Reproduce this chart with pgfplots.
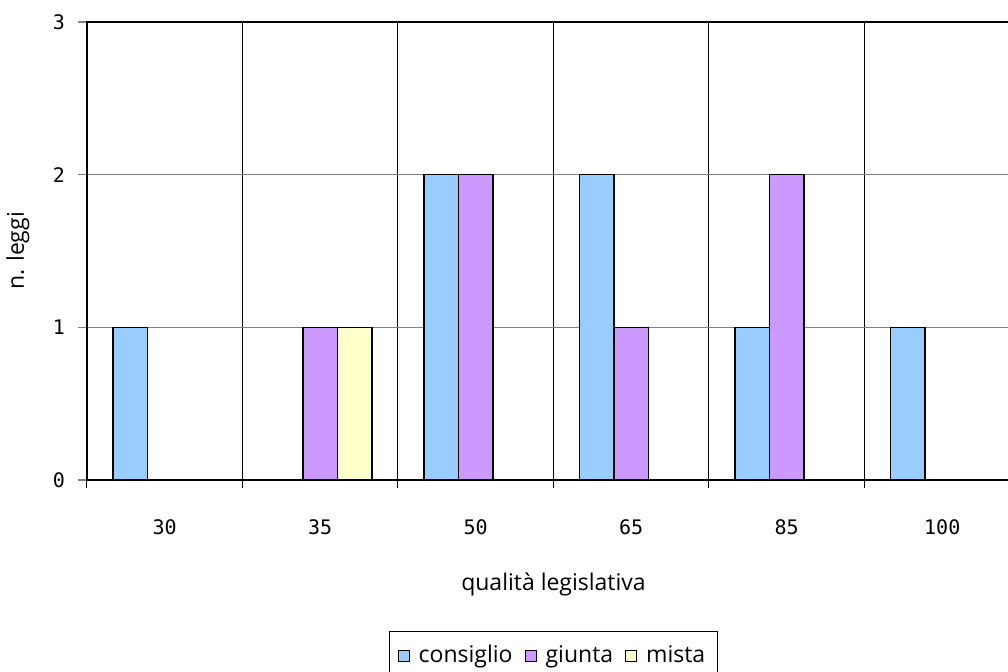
\documentclass[border=0pt]{standalone}
\usepackage{pgfplots}
\pgfplotsset{compat=1.18}
\usepackage{fontspec}
\setmainfont{Open Sans}
\newfontfamily\mono{DejaVu Sans Mono}

\definecolor{consiglio}{HTML}{99CCFF}
\definecolor{giunta}{HTML}{CC99FF}
\definecolor{mista}{HTML}{FFFFCC}
\definecolor{gridgray}{HTML}{808080}

\begin{document}
\begin{tikzpicture}
\path[use as bounding box] (0pt,0pt) rectangle (504pt,336pt);
\begin{axis}[
    at={(43.5pt,96pt)}, anchor=south west,
    scale only axis,
    width=466.5pt, height=229pt,
    xmin=-0.5, xmax=5.5,
    ymin=0, ymax=3,
    ybar=0pt, bar width=0.222,
    xtick={0,1,2,3,4,5},
    xticklabels={30,35,50,65,85,100},
    major x tick style={draw=none},
    minor xtick={-0.5,0.5,1.5,2.5,3.5,4.5,5.5},
    minor x tick style={black, line width=0.5pt},
    xminorgrids,
    minor x grid style={black, line width=0.5pt},
    minor tick length=4pt,
    ytick={0,1,2,3},
    ymajorgrids,
    major y grid style={gridgray, line width=0.6pt},
    y tick style={gridgray, line width=0.6pt},
    major tick length=4.5pt,
    tick align=outside,
    tick pos=left,
    axis line style={black, line width=0.6pt},
    /pgf/number format/assume math mode=true,
    ticklabel style={font=\mono\fontsize{10}{12}\selectfont},
    xticklabel style={anchor=north, yshift=-12pt},
    yticklabel style={xshift=-3pt},
    xlabel={qualità legislativa},
    ylabel={n. leggi},
    label style={font=\fontsize{11.5}{13}\selectfont},
    xlabel style={at={(axis description cs:0.5,-0.229)}, anchor=center},
    ylabel style={at={(axis description cs:-0.074,0.5)}, anchor=center, rotate=0},
    legend style={at={(axis description cs:0.5,-0.3297)}, anchor=north,
        legend columns=3, draw=black, line width=0.5pt,
        inner xsep=4pt, inner ysep=5pt,
        font=\fontsize{11.5}{13}\selectfont,
        /tikz/every odd column/.append style={column sep=2.5pt},
        /tikz/every even column/.append style={column sep=4pt}},
    legend image code/.code={\draw[#1, line width=0.5pt] (0pt,-2.75pt) rectangle (5.5pt,2.75pt);},
]
\addplot[fill=consiglio, draw=black, line width=0.6pt] coordinates {(0,1) (1,0) (2,2) (3,2) (4,1) (5,1)};
\addplot[fill=giunta, draw=black, line width=0.6pt] coordinates {(0,0) (1,1) (2,2) (3,1) (4,2) (5,0)};
\addplot[fill=mista, draw=black, line width=0.6pt] coordinates {(0,0) (1,1) (2,0) (3,0) (4,0) (5,0)};
\legend{consiglio, giunta, mista}
\end{axis}
\end{tikzpicture}
\end{document}
